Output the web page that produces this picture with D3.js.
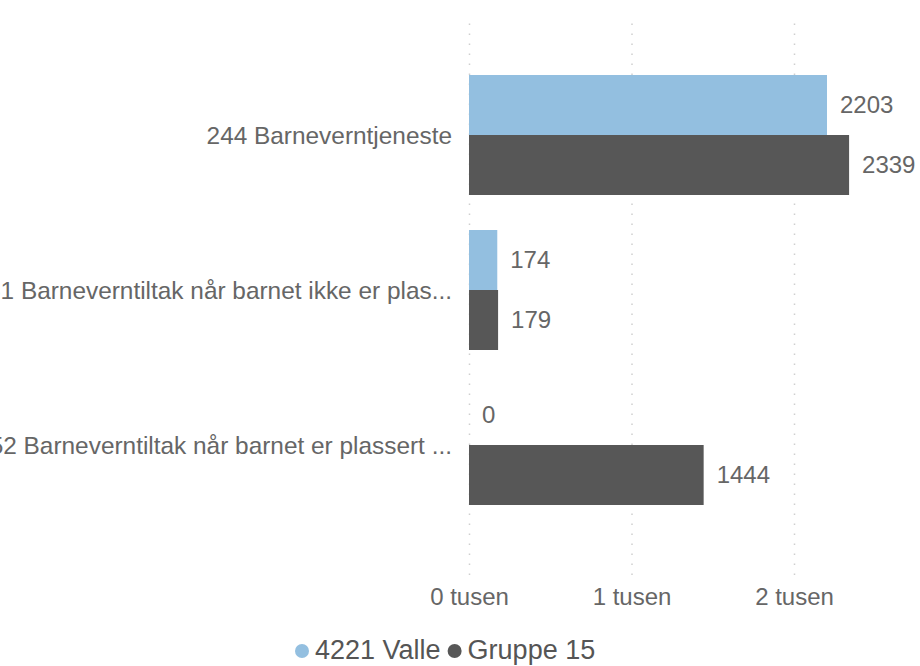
<!DOCTYPE html>
<html>
<head>
<meta charset="utf-8">
<script src="https://cdn.jsdelivr.net/npm/d3@7/dist/d3.min.js"></script>
<style>
  html, body { margin: 0; padding: 0; background: #ffffff; }
  svg { display: block; }
  text { font-family: "Liberation Sans", Arial, sans-serif; }
</style>
</head>
<body>
<svg id="chart" width="920" height="666"></svg>
<script>
// ---- data ----
const categories = [
  "244 Barneverntjeneste",
  "251 Barneverntiltak når barnet ikke er plas...",
  "252 Barneverntiltak når barnet er plassert ..."
];
const seriesNames = ["4221 Valle", "Gruppe 15"];
const valleValues = [2203, 174, 0];
const gruppeValues = [2339, 179, 1444];
const tickValues = [0, 1000, 2000];
const tickLabels = ["0 tusen", "1 tusen", "2 tusen"];
const colors = ["#93bfe0", "#575757"];

// ---- layout ----
const svg = d3.select("#chart");

const x = d3.scaleLinear().domain([0, 2000]).range([469, 794]);
const y = d3.scaleBand().domain(categories).range([57.5, 522.5])
  .paddingInner(35 / 155).paddingOuter(17.5 / 155);
const ySeries = d3.scaleBand().domain(seriesNames).range([0, y.bandwidth()]).padding(0);
const color = d3.scaleOrdinal().domain(seriesNames).range(colors);

const gridTop = 15, gridBottom = 575;

// gridlines + tick labels via axis
const axis = d3.axisBottom(x)
  .tickValues(tickValues)
  .tickFormat((d, i) => tickLabels[i])
  .tickSizeInner(-(gridBottom - gridTop))
  .tickSizeOuter(0)
  .tickPadding(13);

const gAxis = svg.append("g")
  .attr("transform", `translate(0,${gridBottom})`)
  .call(axis);
gAxis.select(".domain").remove();
gAxis.selectAll(".tick line")
  .attr("stroke", "#cfcfcf")
  .attr("stroke-width", 1.5)
  .attr("stroke-dasharray", "1.5,8.5");
gAxis.selectAll(".tick text")
  .attr("fill", "#666666")
  .style("font-size", "24px")
  .style("font-family", "'Liberation Sans', Arial, sans-serif");

// data rows
const rows = categories.map((c, i) => ({
  cat: c,
  vals: [
    { s: seriesNames[0], v: valleValues[i] },
    { s: seriesNames[1], v: gruppeValues[i] }
  ]
}));

const groups = svg.append("g").selectAll("g")
  .data(rows)
  .join("g")
  .attr("transform", d => `translate(0,${y(d.cat)})`);

groups.selectAll("rect")
  .data(d => d.vals)
  .join("rect")
  .attr("x", x(0))
  .attr("y", d => ySeries(d.s))
  .attr("width", d => x(d.v) - x(0))
  .attr("height", ySeries.bandwidth())
  .attr("fill", d => color(d.s));

groups.selectAll("text.val")
  .data(d => d.vals)
  .join("text")
  .attr("class", "val")
  .attr("x", d => x(d.v) + 13)
  .attr("y", d => ySeries(d.s) + ySeries.bandwidth() / 2)
  .attr("dy", "0.35em")
  .attr("fill", "#666666")
  .style("font-size", "24px")
  .text(d => d.v);

// category labels
svg.append("g").selectAll("text")
  .data(categories)
  .join("text")
  .attr("x", 452)
  .attr("y", d => y(d) + y.bandwidth() / 2)
  .attr("dy", "0.35em")
  .attr("text-anchor", "end")
  .attr("fill", "#666666")
  .style("font-size", "24.4px")
  .text(d => d);

// legend
const legend = svg.append("g");
let lx = 302;
const ly = 650;
seriesNames.forEach((name, i) => {
  legend.append("circle")
    .attr("cx", lx).attr("cy", ly + 1).attr("r", 7)
    .attr("fill", color(name));
  const t = legend.append("text")
    .attr("x", lx + 13)
    .attr("y", ly)
    .attr("dy", "0.35em")
    .attr("fill", "#555555")
    .style("font-size", "27px")
    .text(name);
  lx = lx + 13 + t.node().getComputedTextLength() + 14;
});
</script>
</body>
</html>
